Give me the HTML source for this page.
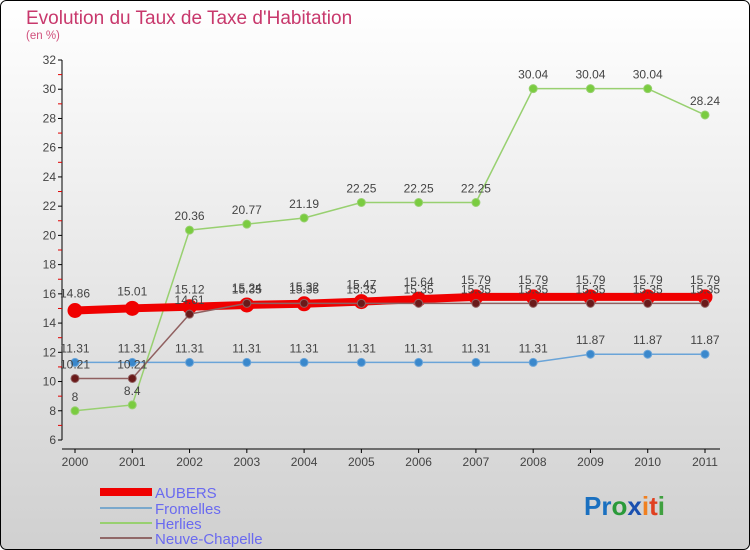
<!DOCTYPE html>
<html><head><meta charset="utf-8"><style>
html,body{margin:0;padding:0;}
body{width:750px;height:550px;overflow:hidden;font-family:"Liberation Sans",sans-serif;}
</style></head><body>
<svg id="chart" width="750" height="550" xmlns="http://www.w3.org/2000/svg" style="display:block">
<defs><linearGradient id="bg" x1="0" y1="0" x2="0" y2="1"><stop offset="0" stop-color="#ffffff"/><stop offset="1" stop-color="#d0d0d0"/></linearGradient></defs>
<rect x="0.5" y="0.5" width="749" height="549" rx="6" fill="url(#bg)" stroke="#000" stroke-width="1"/>
<text x="26" y="24" font-size="19" fill="#c8386c">Evolution du Taux de Taxe d'Habitation</text>
<text x="26" y="39" font-size="11.5" fill="#d0507c">(en %)</text>
<g id="axes"></g>
<g id="series"></g>
<g id="legend">
<rect x="100" y="488" width="52" height="8" fill="#f00000"/>
<text x="155" y="498" font-size="15" fill="#6a6af0">AUBERS</text>
<rect x="100" y="507" width="52" height="2" fill="#7aa8cc"/>
<text x="155" y="514" font-size="15" fill="#6a6af0">Fromelles</text>
<rect x="100" y="522" width="52" height="2" fill="#98d070"/>
<text x="155" y="529" font-size="15" fill="#6a6af0">Herlies</text>
<rect x="100" y="537" width="52" height="2" fill="#906868"/>
<text x="155" y="544" font-size="15" fill="#6a6af0">Neuve-Chapelle</text>
</g>
<text x="584" y="515" font-size="26" font-weight="bold" fill="#1a70c0">Pr<tspan fill="#2a9a3a">o</tspan><tspan fill="#1a50b0">x</tspan><tspan fill="#f08020">i</tspan><tspan fill="#e04020">t</tspan><tspan fill="#40a040">i</tspan></text>
</svg>
<script>
const years = ["2000","2001","2002","2003","2004","2005","2006","2007","2008","2009","2010","2011"];
const yTicks = [6,8,10,12,14,16,18,20,22,24,26,28,30,32];
const aubers = [14.86,15.01,15.12,15.24,15.32,15.47,15.64,15.79,15.79,15.79,15.79,15.79];
const fromelles = [11.31,11.31,11.31,11.31,11.31,11.31,11.31,11.31,11.31,11.87,11.87,11.87];
const herlies = [8,8.4,20.36,20.77,21.19,22.25,22.25,22.25,30.04,30.04,30.04,28.24];
const neuveChapelle = [10.21,10.21,14.61,15.35,15.35,15.35,15.35,15.35,15.35,15.35,15.35,15.35];

const NS="http://www.w3.org/2000/svg";
const x0=75,x1=705,yMin=6,yMax=32,py0=440,py1=60;
function xs(i){return x0+(x1-x0)*i/(years.length-1);}
function ys(v){return py0-(v-yMin)*(py0-py1)/(yMax-yMin);}
function mk(tag,attrs,parent){const e=document.createElementNS(NS,tag);for(const k in attrs)e.setAttribute(k,attrs[k]);parent.appendChild(e);return e;}
const axes=document.getElementById('axes');
let yl=mk('line',{x1:62,y1:py1,x2:62,y2:py0,stroke:'#000','stroke-width':1},axes);


let xl=mk('line',{x1:62,y1:449,x2:720,y2:449,stroke:'#000','stroke-width':1},axes);


yTicks.forEach(v=>{
  const y=ys(v);
  mk('line',{x1:58,y1:y,x2:62,y2:y,stroke:'#000'},axes);
  if(v<yMax) mk('line',{x1:58,y1:ys(v+1),x2:62,y2:ys(v+1),stroke:'#e00000'},axes);
  const t=mk('text',{x:56,y:y+4,'font-size':12,fill:'#444','text-anchor':'end'},axes);
  t.textContent=v;
  
  
});
years.forEach((yr,i)=>{
  const x=xs(i);
  mk('line',{x1:x,y1:449,x2:x,y2:453,stroke:'#000'},axes);
  const t=mk('text',{x:x,y:466,'font-size':12,fill:'#444','text-anchor':'middle'},axes);
  t.textContent=yr;
  
  
});
const sg=document.getElementById('series');
function series(name,vals,color,dot,w,r,lblDy){
  const g=mk('g',{},sg);
  
  
  const pl=mk('polyline',{points:vals.map((v,i)=>xs(i)+','+ys(v)).join(' '),fill:'none',stroke:color,'stroke-width':w,'stroke-linejoin':'round'},g);
  
  
  vals.forEach((v,i)=>{
    const c=mk('circle',{cx:xs(i),cy:ys(v),r:r,fill:dot,stroke:color,'stroke-width':1},g);
    
    
    const t=mk('text',{x:xs(i),y:ys(v)-lblDy,'font-size':12,fill:'#444','text-anchor':'middle'},g);
    t.textContent=v;
    
    
  });
}
series('fromelles',fromelles,'#6aa4d8','#3a88cc',1.5,4,10);
series('herlies',herlies,'#98d070','#7acc40',1.5,4,10);
series('aubers',aubers,'#f00000','#f00000',8,7,13);
series('neuve-chapelle',neuveChapelle,'#906060','#6a1a1a',1.5,4,10);
</script>
</body></html>
